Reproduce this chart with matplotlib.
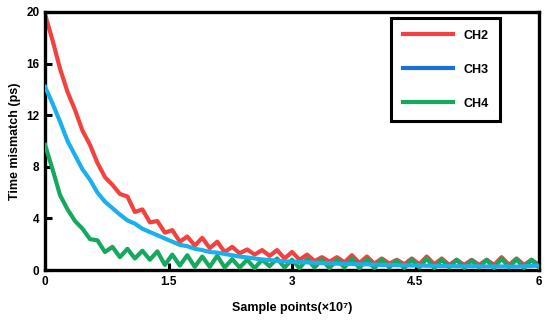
import numpy as np
import matplotlib
matplotlib.use("Agg")
import matplotlib.pyplot as plt
from matplotlib.lines import Line2D

plt.rcParams['font.family'] = ['Liberation Sans', 'DejaVu Sans']
plt.rcParams['font.weight'] = 'bold'

x = np.linspace(0, 6, 67)

ch2 = [19.8, 17.8, 15.6, 13.8, 12.4, 10.8, 9.7, 8.3, 7.2, 6.6,
       5.9, 5.7, 4.5, 4.7, 3.7, 3.8, 2.9, 3.1, 2.2, 2.6,
       1.9, 2.5, 1.7, 2.2, 1.4, 1.8, 1.3, 1.6, 1.2, 1.55,
       1.1, 1.55, 0.9, 1.4, 0.8, 1.2, 0.7, 1.0, 0.65, 1.0,
       0.6, 1.15, 0.55, 1.05, 0.5, 0.9, 0.5, 0.8, 0.45, 0.9,
       0.45, 1.05, 0.45, 0.9, 0.4, 0.8, 0.4, 0.8, 0.4, 0.8,
       0.4, 1.0, 0.4, 0.9, 0.4, 0.8, 0.4]

ch3 = [14.2, 12.9, 11.5, 10.0, 8.9, 7.8, 7.0, 6.0, 5.3, 4.8,
       4.3, 3.85, 3.6, 3.2, 2.95, 2.7, 2.45, 2.2, 1.95, 1.85,
       1.65, 1.55, 1.4, 1.35, 1.25, 1.15, 1.05, 0.98, 0.9, 0.82,
       0.78, 0.72, 0.68, 0.65, 0.62, 0.6, 0.57, 0.55, 0.52, 0.5,
       0.48, 0.47, 0.45, 0.44, 0.42, 0.4, 0.4, 0.38, 0.37, 0.36,
       0.35, 0.34, 0.33, 0.32, 0.32, 0.3, 0.3, 0.3, 0.29, 0.28,
       0.28, 0.28, 0.27, 0.27, 0.3, 0.32, 0.35]

ch4 = [9.7, 7.8, 5.8, 4.7, 3.8, 3.2, 2.4, 2.3, 1.4, 1.8,
       1.0, 1.65, 0.9, 1.5, 0.8, 1.45, 0.4, 1.2, 0.35, 1.15,
       0.25, 1.05, 0.25, 1.1, 0.2, 0.85, 0.2, 0.8, 0.15, 0.8,
       0.3, 0.9, 0.2, 0.8, 0.15, 0.85, 0.2, 0.8, 0.15, 0.8,
       0.2, 0.9, 0.15, 0.85, 0.15, 0.8, 0.2, 0.75, 0.15, 0.8,
       0.2, 0.9, 0.15, 0.8, 0.2, 0.8, 0.15, 0.75, 0.2, 0.8,
       0.15, 0.9, 0.2, 0.85, 0.15, 0.8, 0.2]

labels = ["CH2", "CH3", "CH4"]
line_colors = ["#f2413f", "#1bb0ec", "#16a85e"]
legend_colors = ["#f2413f", "#1a6fe0", "#16a85e"]
xticks = [0, 1.5, 3, 4.5, 6]
xticklabels = ["0", "1.5", "3", "4.5", "6"]
yticks = [0, 4, 8, 12, 16, 20]

fig = plt.figure(figsize=(5.5, 3.2), dpi=100)
ax = fig.add_axes([0.082, 0.156, 0.898, 0.8065])

ax.plot(x, ch2, color=line_colors[0], lw=3.0, zorder=2, solid_joinstyle='round')
ax.plot(x, ch4, color=line_colors[2], lw=3.0, zorder=3, solid_joinstyle='round')
ax.plot(x, ch3, color=line_colors[1], lw=3.0, zorder=4, solid_joinstyle='round')

ax.set_xlim(0, 6)
ax.set_ylim(0, 20)
ax.set_xticks(xticks)
ax.set_xticklabels(xticklabels)
ax.set_yticks(yticks)
ax.tick_params(direction='in', length=5, width=2.2, labelsize=8.5,
               top=False, right=False, pad=4)
for s in ax.spines.values():
    s.set_linewidth(2.4)

ax.set_xlabel("Sample points(×10\u2077)", fontsize=9, fontweight='bold', labelpad=10)
ax.set_ylabel("Time mismatch (ps)", fontsize=9, fontweight='bold', labelpad=4)

handles = [Line2D([], [], color=c, lw=3) for c in legend_colors]
leg = ax.legend(handles, labels, loc='upper left', bbox_to_anchor=(0.70, 0.977),
                borderaxespad=0, fontsize=9, handlelength=4.0, handletextpad=0.85,
                labelspacing=1.75, borderpad=0.95, fancybox=False,
                edgecolor='black', framealpha=1)
leg.get_frame().set_linewidth(2.2)
for t in leg.get_texts():
    t.set_fontweight('bold')

fig.savefig("out.png", dpi=100)
